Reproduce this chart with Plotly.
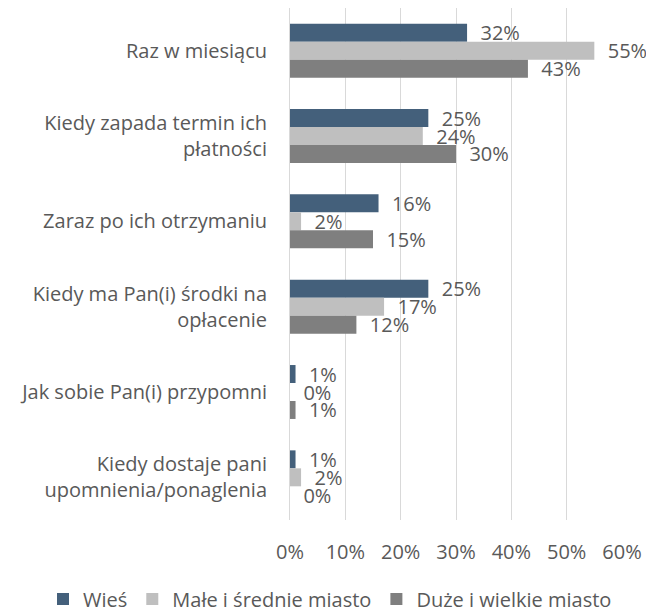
import plotly.graph_objects as go

categories = [
    "Raz w miesiącu",
    "Kiedy zapada termin ich<br>płatności",
    "Zaraz po ich otrzymaniu",
    "Kiedy ma Pan(i) środki na<br>opłacenie",
    "Jak sobie Pan(i) przypomni",
    "Kiedy dostaje pani<br>upomnienia/ponaglenia",
]
series_names = ["Wieś", "Małe i średnie miasto", "Duże i wielkie miasto"]
wies = [32, 25, 16, 25, 1, 1]
male_srednie = [55, 24, 2, 17, 0, 2]
duze_wielkie = [43, 30, 15, 12, 1, 0]
tick_vals = [0, 10, 20, 30, 40, 50, 60]
tick_text = ["0%", "10%", "20%", "30%", "40%", "50%", "60%"]

colors = ["#44607B", "#BFBFBF", "#7F7F7F"]
FONT = "Open Sans"
TXT = "#595959"

# page body has an 8px margin, so the figure is drawn 8px in from the top-left
W, H = 646, 613
L, R, T, B = 282, 32, 0, 101

fig = go.Figure()
for name, vals, col in zip(series_names, [wies, male_srednie, duze_wielkie], colors):
    fig.add_trace(go.Bar(
        y=categories, x=vals, name=name, orientation="h",
        marker=dict(color=col, line=dict(width=0)),
        text=["\u00a0\u00a0" + f"{v}%" for v in vals],
        textposition="outside", constraintext="none", cliponaxis=False,
        textfont=dict(family=FONT, size=20, color=TXT),
        hoverinfo="skip",
    ))

plot_w = W - L - R
plot_h = H - T - B
leg_left = 35
leg_mid = 591

fig.update_layout(
    width=W, height=H,
    margin=dict(l=L, r=R, t=T, b=B),
    paper_bgcolor="white", plot_bgcolor="white",
    barmode="group", bargap=0.368, bargroupgap=0,
    font=dict(family=FONT, size=20, color=TXT),
    showlegend=True,
    legend=dict(orientation="h",
                x=(leg_left - L) / plot_w, xanchor="left",
                y=(plot_h - (leg_mid - T)) / plot_h, yanchor="middle",
                font=dict(family=FONT, size=20, color=TXT),
                traceorder="normal", bgcolor="rgba(0,0,0,0)"),
    xaxis=dict(range=[0, 60], tickvals=tick_vals, ticktext=tick_text,
               showgrid=True, gridcolor="#D9D9D9", gridwidth=1,
               zeroline=False, showline=False, ticks="",
               ticklabelstandoff=18, automargin=False,
               tickfont=dict(family=FONT, size=20, color=TXT)),
    yaxis=dict(autorange="reversed", showgrid=False, zeroline=False,
               showline=True, linecolor="#D9D9D9", linewidth=1,
               ticks="", ticklabelstandoff=18, automargin=False,
               tickfont=dict(family=FONT, size=20, color=TXT)),
)

fig.write_html("out.html")
